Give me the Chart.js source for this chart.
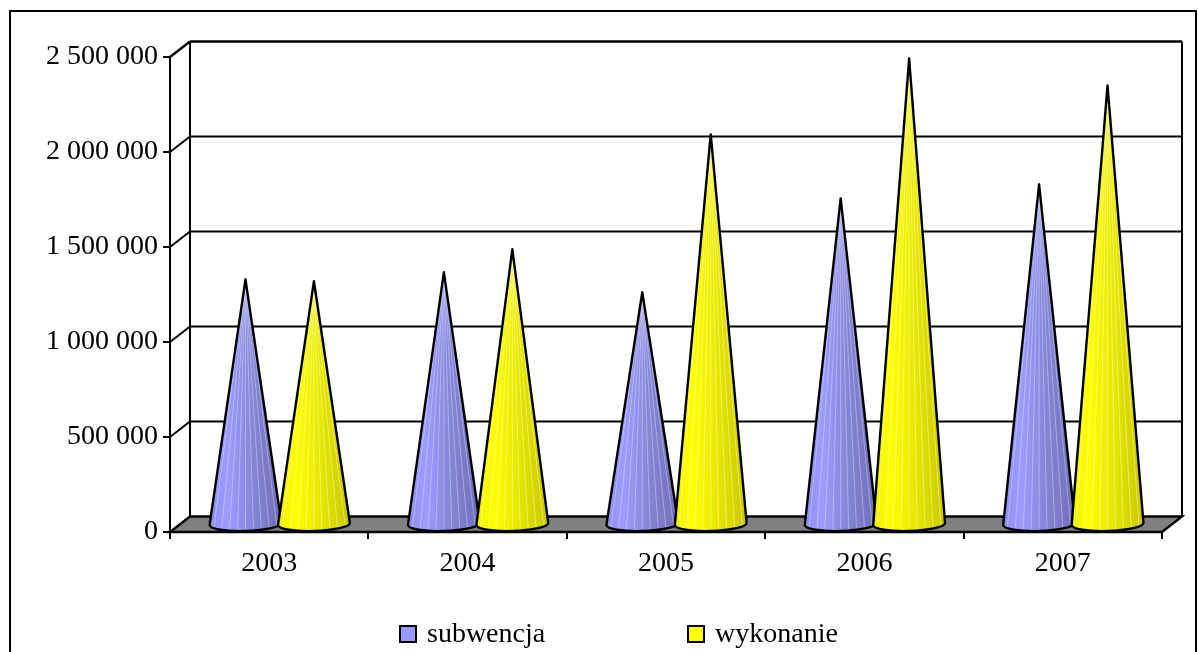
<!DOCTYPE html>
<html>
<head>
<meta charset="utf-8">
<script src="https://cdn.jsdelivr.net/npm/chart.js@4/dist/chart.umd.min.js"></script>
<style>
  html, body { margin: 0; padding: 0; background: #fff; overflow: hidden; }
  canvas { display: block; }
</style>
</head>
<body>
<canvas id="coneChart" width="1198" height="652"></canvas>
<script>
const years = ['2003', '2004', '2005', '2006', '2007'];
const subwencja = [1293000, 1330000, 1225000, 1719000, 1793000];
const wykonanie = [1283000, 1451000, 2056000, 2455000, 2313000];
const yTicks = [0, 500000, 1000000, 1500000, 2000000, 2500000];

const SERIF = '"Liberation Serif", "Times New Roman", serif';
const DEPTH_X = 20, DEPTH_Y = 15.5;

const coneColors = [
    { legend: '#9999ff', stops: ['#8f8ff2', '#9c9cff', '#8585d6', '#6e6eb8'], stripe: 'rgba(235,235,255,0.4)' },
    { legend: '#ffff00', stops: ['#f2f200', '#ffff00', '#e6e600', '#c8c800'], stripe: 'rgba(255,255,190,0.5)' }
];

function formatTick(value) {
    return String(value).replace(/\B(?=(\d{3})+$)/g, ' ');
}

function line(ctx, x1, y1, x2, y2) {
    ctx.beginPath();
    ctx.moveTo(x1, y1);
    ctx.lineTo(x2, y2);
    ctx.stroke();
}

// Back wall, floor and the frame round the whole chart
const wallPlugin = {
    id: 'wall',
    beforeDatasetsDraw(chart) {
        const { ctx, chartArea: area, scales } = chart;
        const floorY = area.bottom;
        ctx.save();

        ctx.strokeStyle = '#000';
        ctx.lineWidth = 2;
        ctx.strokeRect(10, 11, 1186, 700);

        yTicks.forEach(v => {
            const y = scales.y.getPixelForValue(v);
            if (v > 0) {
                ctx.lineWidth = v === 2500000 ? 2.4 : 2;
                line(ctx, area.left, y, area.left + DEPTH_X, y - DEPTH_Y);
                line(ctx, area.left + DEPTH_X, y - DEPTH_Y, area.right + DEPTH_X, y - DEPTH_Y);
            }
        });
        ctx.lineWidth = 2;
        line(ctx, area.left + DEPTH_X, area.top - DEPTH_Y, area.left + DEPTH_X, floorY - DEPTH_Y);
        line(ctx, area.right + DEPTH_X, area.top - DEPTH_Y, area.right + DEPTH_X, floorY - DEPTH_Y);

        ctx.beginPath();
        ctx.moveTo(area.left, floorY);
        ctx.lineTo(area.left + DEPTH_X, floorY - DEPTH_Y);
        ctx.lineTo(area.right + DEPTH_X, floorY - DEPTH_Y);
        ctx.lineTo(area.right, floorY);
        ctx.closePath();
        ctx.fillStyle = '#808080';
        ctx.fill();
        ctx.lineWidth = 2.4;
        ctx.stroke();
        ctx.restore();
    }
};

// Turns each (invisible) bar into a cone, using the bar's own scale position
const conePlugin = {
    id: 'cones',
    afterDatasetsDraw(chart) {
        const { ctx } = chart;
        chart.data.labels.forEach((label, i) => {
            chart.data.datasets.forEach((ds, d) => {
                const bar = chart.getDatasetMeta(d).data[i];
                const cx = bar.x + 10.5;
                const tipY = bar.y - 7;
                const baseY = bar.base - 7;
                const rx = bar.width * 0.525;
                const ry = 7;
                const colors = coneColors[d];

                const grad = ctx.createLinearGradient(cx - rx, 0, cx + rx, 0);
                colors.stops.forEach((c, s) => grad.addColorStop([0, 0.25, 0.6, 1][s], c));

                const cone = new Path2D();
                cone.moveTo(cx, tipY);
                cone.lineTo(cx + rx, baseY - 1);
                cone.ellipse(cx, baseY, rx, ry, -0.03, 0, Math.PI, false);
                cone.closePath();

                ctx.save();
                ctx.fillStyle = grad;
                ctx.fill(cone);

                ctx.save();
                ctx.clip(cone);
                ctx.strokeStyle = colors.stripe;
                ctx.lineWidth = 1;
                for (let k = -4; k <= 4; k++) {
                    line(ctx, cx, tipY, cx + rx * k / 4.5, baseY + ry);
                }
                ctx.restore();

                ctx.strokeStyle = '#000';
                ctx.lineWidth = 2.4;
                ctx.lineJoin = 'round';
                ctx.stroke(cone);
                ctx.restore();
            });
        });
    }
};

// Legend drawn to the original's wide spacing
const legendPlugin = {
    id: 'wideLegend',
    afterDraw(chart) {
        const { ctx } = chart;
        const boxX = [400, 688];
        ctx.save();
        ctx.font = '28px ' + SERIF;
        ctx.textBaseline = 'middle';
        chart.data.datasets.forEach((ds, d) => {
            ctx.fillStyle = coneColors[d].legend;
            ctx.strokeStyle = '#000';
            ctx.lineWidth = 2;
            ctx.fillRect(boxX[d], 626, 16, 16);
            ctx.strokeRect(boxX[d], 626, 16, 16);
            ctx.fillStyle = '#000';
            ctx.fillText(ds.label, boxX[d] + 27, 635);
        });
        ctx.restore();
    }
};

new Chart(document.getElementById('coneChart'), {
    type: 'bar',
    data: {
        labels: years,
        datasets: [
            { label: 'subwencja', data: subwencja, backgroundColor: 'transparent' },
            { label: 'wykonanie', data: wykonanie, backgroundColor: 'transparent' }
        ]
    },
    options: {
        responsive: false,
        animation: false,
        layout: { padding: { left: 30, top: 57, right: 36, bottom: 60 } },
        datasets: { bar: { barPercentage: 1, categoryPercentage: 0.69 } },
        plugins: { legend: { display: false }, tooltip: { enabled: false } },
        scales: {
            x: {
                afterFit(scale) { scale.height = 60; },
                grid: { drawOnChartArea: false, offset: true, color: '#000', tickLength: 7, lineWidth: 2 },
                border: { color: '#000', width: 2 },
                ticks: { color: '#000', padding: 8, maxRotation: 0, font: { family: SERIF, size: 28 } }
            },
            y: {
                min: 0,
                max: 2500000,
                afterFit(scale) { scale.width = 140; },
                afterBuildTicks(scale) { scale.ticks = yTicks.map(value => ({ value })); },
                grid: { drawOnChartArea: false, color: '#000', tickLength: 7, lineWidth: 2 },
                border: { color: '#000', width: 2 },
                ticks: { color: '#000', padding: 5, callback: formatTick, font: { family: SERIF, size: 28 } }
            }
        }
    },
    plugins: [wallPlugin, conePlugin, legendPlugin]
});
</script>
</body>
</html>
